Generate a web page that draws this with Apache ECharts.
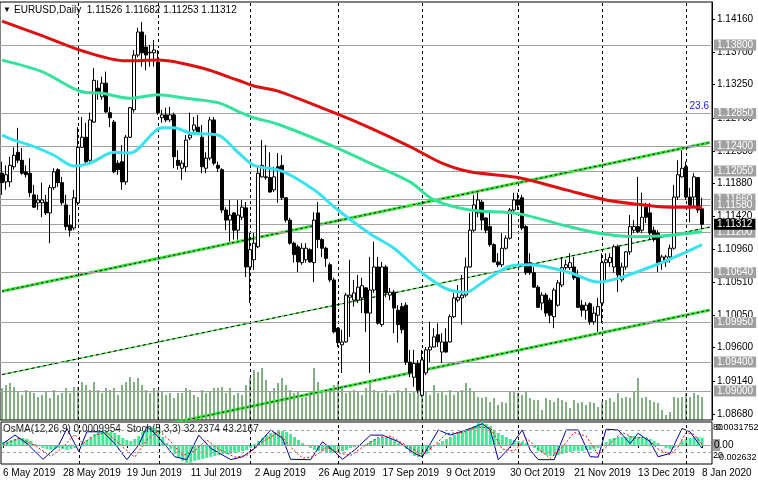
<!DOCTYPE html>
<html><head><meta charset="utf-8">
<script src="https://cdn.jsdelivr.net/npm/echarts@6/dist/echarts.min.js"></script>
<style>html,body{margin:0;padding:0;background:#fff}#c{width:758px;height:483px}</style>
</head><body><div id="c"></div>
<script>
// ---------- DATA ----------
// Daily candles [open, close, low, high]
const ohlc = [
[1.1202,1.1189,1.1172,1.1218],[1.1190,1.1200,1.1179,1.1213],[1.1190,1.1213,1.1183,1.1225],[1.1211,1.1227,1.1207,1.1238],[1.1231,1.1220,1.1216,1.1265],
[1.1220,1.1202,1.1200,1.1237],[1.1204,1.1200,1.1196,1.1213],[1.1202,1.1175,1.1169,1.1223],[1.1172,1.1155,1.1154,1.1186],[1.1161,1.1165,1.1151,1.1172],
[1.1161,1.1165,1.1141,1.1189],[1.1162,1.1147,1.1144,1.1172],[1.1147,1.1182,1.1105,1.1186],[1.1182,1.1204,1.1179,1.1209],[1.1207,1.1189,1.1183,1.1209],
[1.1189,1.1161,1.1158,1.1197],[1.1158,1.1128,1.1123,1.1172],[1.1130,1.1123,1.1114,1.1144],[1.1126,1.1168,1.1123,1.1179],[1.1161,1.1238,1.1158,1.1266],
[1.1238,1.1252,1.1237,1.1280],[1.1252,1.1218,1.1216,1.1272],[1.1220,1.1276,1.1218,1.1286],[1.1273,1.1331,1.1272,1.1348],[1.1320,1.1313,1.1304,1.1331],
[1.1308,1.1327,1.1304,1.1336],[1.1327,1.1287,1.1286,1.1343],[1.1286,1.1279,1.1266,1.1294],[1.1273,1.1204,1.1202,1.1276],[1.1216,1.1207,1.1200,1.1220],
[1.1218,1.1190,1.1179,1.1241],[1.1190,1.1252,1.1186,1.1255],[1.1252,1.1293,1.1251,1.1294],[1.1290,1.1366,1.1286,1.1373],[1.1366,1.1398,1.1363,1.1404],
[1.1398,1.1369,1.1350,1.1412],[1.1377,1.1366,1.1345,1.1394],[1.1369,1.1370,1.1350,1.1380],[1.1369,1.1373,1.1350,1.1387],[1.1356,1.1286,1.1283,1.1373],
[1.1279,1.1283,1.1272,1.1290],[1.1283,1.1276,1.1273,1.1293],[1.1276,1.1283,1.1273,1.1294],[1.1283,1.1225,1.1209,1.1286],[1.1220,1.1213,1.1207,1.1234],
[1.1209,1.1216,1.1193,1.1220],[1.1211,1.1248,1.1204,1.1255],[1.1251,1.1255,1.1248,1.1286],[1.1262,1.1269,1.1259,1.1280],[1.1266,1.1258,1.1255,1.1283],
[1.1252,1.1211,1.1202,1.1269],[1.1209,1.1223,1.1202,1.1231],[1.1223,1.1276,1.1220,1.1280],[1.1276,1.1216,1.1213,1.1280],[1.1213,1.1209,1.1204,1.1218],
[1.1207,1.1151,1.1147,1.1209],[1.1151,1.1137,1.1123,1.1155],[1.1137,1.1144,1.1107,1.1165],[1.1147,1.1123,1.1110,1.1148],[1.1123,1.1144,1.1110,1.1165],
[1.1141,1.1155,1.1137,1.1165],[1.1154,1.1072,1.1058,1.1162],[1.1072,1.1096,1.1022,1.1119],[1.1082,1.1105,1.1068,1.1119],[1.1100,1.1202,1.1098,1.1211],
[1.1197,1.1213,1.1196,1.1248],[1.1197,1.1196,1.1193,1.1241],[1.1196,1.1176,1.1175,1.1231],[1.1179,1.1197,1.1176,1.1211],[1.1211,1.1207,1.1161,1.1230],
[1.1213,1.1168,1.1165,1.1227],[1.1168,1.1137,1.1134,1.1169],[1.1137,1.1105,1.1103,1.1140],[1.1105,1.1089,1.1078,1.1107],[1.1100,1.1079,1.1065,1.1103],
[1.1078,1.1098,1.1075,1.1105],[1.1082,1.1098,1.1078,1.1105],[1.1096,1.1079,1.1078,1.1098],[1.1078,1.1137,1.1051,1.1148],[1.1147,1.1110,1.1098,1.1162],
[1.1110,1.1098,1.1086,1.1112],[1.1098,1.1084,1.1072,1.1100],[1.1075,1.1054,1.1051,1.1078],[1.1054,1.0982,1.0980,1.1057],[1.0987,1.0967,1.0961,1.0988],
[1.0964,1.0968,1.0925,1.0985],[1.0968,1.1033,1.0967,1.1036],[1.1030,1.1033,1.0975,1.1082],[1.1026,1.1036,1.1017,1.1054],[1.1026,1.1044,1.1022,1.1061],
[1.1029,1.1046,1.1008,1.1057],[1.1043,1.1008,1.0982,1.1044],[1.1008,1.1040,1.0925,1.1086],[1.1040,1.1072,1.1036,1.1107],[1.1072,1.0994,1.0992,1.1086],
[1.0992,1.1072,1.0989,1.1079],[1.1072,1.1036,1.1030,1.1075],[1.1033,1.1037,1.1026,1.1043],[1.1037,1.1015,1.0980,1.1040],[1.1012,1.0992,1.0967,1.1019],
[1.1017,1.0985,1.0980,1.1022],[1.1019,1.0940,1.0936,1.1023],[1.0940,1.0925,1.0919,1.0957],[1.0919,1.0938,1.0906,1.0957],[1.0938,1.0901,1.0897,1.0943],
[1.0894,1.0943,1.0892,1.0957],[1.0925,1.0957,1.0922,1.0961],[1.0957,1.0961,1.0940,1.0996],[1.0961,1.0975,1.0960,1.0987],[1.0978,1.0968,1.0961,1.0994],
[1.0954,1.0968,1.0939,1.0980],[1.0968,1.0954,1.0953,1.0987],[1.0968,1.1003,1.0967,1.1006],[1.1003,1.1029,1.1001,1.1036],[1.1026,1.1030,1.1023,1.1047],
[1.1029,1.1033,1.0992,1.1061],[1.1033,1.1072,1.1030,1.1085],[1.1072,1.1123,1.1071,1.1147],[1.1123,1.1158,1.1120,1.1172],[1.1147,1.1165,1.1141,1.1175],
[1.1162,1.1137,1.1123,1.1165],[1.1140,1.1123,1.1119,1.1141],[1.1128,1.1103,1.1100,1.1151],[1.1103,1.1079,1.1078,1.1105],[1.1079,1.1075,1.1072,1.1091],
[1.1075,1.1098,1.1072,1.1119],[1.1098,1.1112,1.1096,1.1116],[1.1112,1.1151,1.1110,1.1154],[1.1151,1.1165,1.1147,1.1175],[1.1165,1.1158,1.1151,1.1175],
[1.1168,1.1126,1.1123,1.1172],[1.1128,1.1064,1.1061,1.1130],[1.1078,1.1064,1.1061,1.1091],[1.1064,1.1044,1.1043,1.1072],[1.1044,1.1016,1.1015,1.1047],
[1.1022,1.1033,1.1012,1.1037],[1.1033,1.1008,1.1003,1.1036],[1.1026,1.1005,1.0994,1.1029],[1.1003,1.1040,1.0987,1.1043],[1.1019,1.1050,1.1017,1.1054],
[1.1047,1.1071,1.1044,1.1086],[1.1071,1.1075,1.1068,1.1082],[1.1071,1.1078,1.1068,1.1091],[1.1072,1.1057,1.1054,1.1086],[1.1058,1.1016,1.1015,1.1068],
[1.1019,1.1012,1.1003,1.1026],[1.1012,1.1019,1.0999,1.1023],[1.1021,1.0996,1.0992,1.1023],[1.0996,1.1008,1.0992,1.1017],[1.1005,1.1017,1.0982,1.1029],
[1.1022,1.1078,1.0994,1.1091],[1.1078,1.1082,1.1054,1.1091],[1.1078,1.1085,1.1072,1.1091],[1.1072,1.1100,1.1064,1.1103],[1.1100,1.1061,1.1037,1.1103],
[1.1054,1.1072,1.1051,1.1078],[1.1072,1.1093,1.1068,1.1094],[1.1093,1.1128,1.1089,1.1144],[1.1123,1.1128,1.1119,1.1137],[1.1128,1.1121,1.1119,1.1197],
[1.1123,1.1141,1.1119,1.1175],[1.1155,1.1141,1.1133,1.1161],[1.1147,1.1119,1.1110,1.1161],[1.1123,1.1110,1.1107,1.1128],[1.1119,1.1078,1.1065,1.1123],
[1.1078,1.1086,1.1068,1.1089],[1.1079,1.1086,1.1072,1.1089],[1.1086,1.1098,1.1078,1.1103],[1.1098,1.1169,1.1096,1.1186],[1.1169,1.1200,1.1165,1.1220],
[1.1197,1.1209,1.1196,1.1234],[1.1211,1.1169,1.1165,1.1218],[1.1169,1.1158,1.1134,1.1182],[1.1169,1.1197,1.1155,1.1202],[1.1196,1.1151,1.1147,1.1197],
[1.11526,1.11312,1.11253,1.11682]
];
// Tick volumes (overlay in the price window)
const volumes = [32,35,37,33,28,25,30,28,27,23,25,28,22,30,25,27,32,27,33,33,38,35,30,38,30,27,32,30,32,25,35,38,43,38,42,35,30,27,32,30,28,25,27,22,27,27,32,30,25,23,30,27,28,32,32,33,27,32,25,27,
25,35,42,50,48,52,40,28,32,37,42,35,30,27,28,22,23,28,52,38,30,28,32,35,38,32,27,28,30,28,25,32,38,30,28,27,30,25,27,30,28,32,27,28,30,32,28,25,35,27,28,25,30,25,28,30,37,32,28,
23,22,23,18,22,15,18,17,28,28,27,25,28,22,20,20,10,22,20,18,22,20,18,12,20,17,18,15,18,17,13,18,20,22,18,27,22,23,22,28,42,22,23,20,18,17,10,5,8,23,22,23,27,23,27,25,23];
// Moving averages, read at points [barIndex, price]
const maRed = [[0,1.1413],[10,1.1393],[20,1.1372],[31,1.1358],[39,1.1359],[50,1.1348],[59,1.1331],[63,1.1323],[69,1.1316],[83,1.1286],[92,1.1265],[102,1.1239],[110,1.1216],[117,1.1204],[129,1.1196],[141,1.1179],[151,1.1165],[159,1.1159],[167,1.1155],[175,1.1155]];
const maTeal = [[0,1.1359],[10,1.1343],[20,1.1315],[25,1.1313],[32,1.1306],[39,1.1311],[46,1.1306],[54,1.1300],[59,1.1288],[63,1.1279],[69,1.1270],[83,1.1239],[92,1.1216],[102,1.1190],[108,1.1165],[117,1.1151],[129,1.1146],[141,1.1129],[150,1.1118],[159,1.1114],[167,1.1116],[175,1.1121]];
const maCyan = [[0,1.1255],[3,1.1248],[8,1.1239],[13,1.1227],[18,1.1212],[22,1.1216],[28,1.1231],[32,1.1230],[40,1.1265],[43,1.1265],[47,1.1258],[54,1.1255],[59,1.1231],[63,1.1213],[70,1.1205],[78,1.1179],[84,1.1151],[92,1.1118],[98,1.1098],[105,1.1064],[111,1.1042],[116,1.1037],[120,1.1050],[127,1.1073],[132,1.1075],[142,1.1064],[149,1.1051],[155,1.1058],[164,1.1076],[170,1.1090],[175,1.1103]];
// Channel trend lines [barIndex, price]
const channelUpper = [[0,1.10382],[177,1.12448]];
const channelMid = [[0,1.09227],[177,1.11274]];
const channelLower = [[0,1.08061],[177,1.10123]];
// Horizontal levels
const levels = [1.13800,1.12850,1.12400,1.12050,1.11660,1.11580,1.11200,1.10640,1.09950,1.09400,1.09000];
const bidPrice = 1.11312;
const fiboLevel = 1.12850, fiboText = '23.6';
// OsMA(12,26,9) histogram
const osma = [0.00041,0.00055,0.00069,0.00083,0.00097,0.00097,0.00083,0.00055,0.00014,-0.00014,-0.00041,-0.00055,-0.00069,-0.00055,-0.00041,-0.00055,-0.00069,-0.00055,-0.00041,-0.00014,
0.00028,0.00069,0.0011,0.00152,0.00179,0.00193,0.00193,0.00179,0.00166,0.00138,0.00097,0.00069,0.00055,0.00083,0.00124,0.00179,0.00221,0.00248,0.00235,0.00193,
0.0011,0.00028,-0.00055,-0.00124,-0.00179,-0.00221,-0.002632,-0.00245,-0.00221,-0.00207,-0.00193,-0.00179,-0.00166,-0.00152,-0.00138,-0.00124,-0.00124,-0.00124,-0.0011,-0.00097,
-0.00083,-0.00069,-0.00041,0.00014,0.00055,0.00097,0.00138,0.00166,0.00179,0.00193,0.00193,0.00179,0.00152,0.0011,0.00069,0.00028,-0.00014,-0.00041,-0.00069,-0.00083,
-0.00083,-0.00097,-0.0011,-0.0011,-0.00097,-0.00083,-0.00069,-0.00041,-0.00028,-0.00014,-0.00014,0.00014,0.00055,0.00083,0.00097,0.0011,0.0011,0.00083,0.00055,0.00028,
-0.00014,-0.00055,-0.0011,-0.00152,-0.00166,-0.00152,-0.00124,-0.00069,-0.00014,0.00028,0.00055,0.00083,0.0011,0.00138,0.00166,0.00179,0.00207,0.00235,0.00262,0.003,
0.0031752,0.0029,0.0026,0.00207,0.00166,0.00138,0.0011,0.00083,0.00069,0.00055,0.00041,0.00028,-0.00014,-0.00041,-0.00083,-0.0011,-0.00138,-0.00152,-0.00152,-0.00138,
-0.00124,-0.0011,-0.00097,-0.00083,-0.00083,-0.00083,-0.00069,-0.00069,-0.00055,-0.00041,0.00002,0.00041,0.00083,0.00097,0.0011,0.0011,0.0011,0.00124,0.00124,0.0011,
0.0011,0.00097,0.00083,0.00055,0.00028,-0.00014,-0.00041,-0.00055,-0.00041,-0.00014,0.00055,0.00083,0.00097,0.0011,0.0011,0.0009954];
// Stochastic(5,3,3) main and signal, read at points [barIndex, value]
const stochMain = [[0,45],[3,68],[6,45],[10,2],[14,41],[16,86],[19,23],[21,77],[25,77],[28,45],[31,1],[34,41],[36,91],[38,73],[41,36],[43,9],[46,1],[49,68],[52,32],[57,1],[60,9],[63,32],[67,82],[70,59],[72,2],[77,1],[80,50],[83,23],[85,2],[88,27],[92,68],[95,68],[99,50],[103,18],[105,9],[107,45],[109,82],[112,68],[117,86],[120,99],[122,82],[124,1],[127,36],[130,82],[132,27],[134,1],[138,1],[141,82],[144,82],[147,9],[149,8],[151,84],[154,82],[157,45],[159,73],[162,50],[164,9],[167,18],[170,86],[172,77],[175,32.2374]];
const stochSignal = [[0,40],[4,60],[8,40],[12,10],[15,35],[18,70],[20,45],[23,68],[26,75],[30,35],[33,8],[36,55],[39,80],[42,50],[45,12],[48,25],[51,55],[54,30],[58,8],[61,12],[65,50],[69,75],[72,35],[75,5],[78,10],[81,35],[84,20],[87,12],[90,35],[94,62],[97,65],[101,40],[105,15],[108,40],[111,72],[115,75],[119,90],[122,88],[125,30],[128,25],[131,60],[134,30],[137,5],[140,35],[143,75],[146,65],[149,15],[152,45],[155,75],[158,60],[161,62],[164,30],[167,15],[169,35],[171,75],[173,70],[175,43.2167]];
// Axis ticks
const priceTicks = [1.14160,1.13700,1.13250,1.12790,1.12330,1.11880,1.11420,1.10960,1.10510,1.10050,1.09600,1.09140,1.08680];
const dateTickIdx = [0,15,31,47,63,79,95,111,127,143,159,175];
const dateTickLabels = ['6 May 2019','28 May 2019','19 Jun 2019','11 Jul 2019','2 Aug 2019','26 Aug 2019','17 Sep 2019','9 Oct 2019','30 Oct 2019','21 Nov 2019','13 Dec 2019','8 Jan 2020'];
const monthSeps = [19,39,62,84,105,129,150,171];

// ---------- CATEGORIES (trading days) ----------
const categories = [];
{
  const d = new Date(Date.UTC(2019,4,6));
  while (categories.length < ohlc.length) {
    const w = d.getUTCDay(), s = d.toISOString().slice(0,10);
    if (w !== 0 && w !== 6 && s !== '2019-12-25' && s !== '2020-01-01') categories.push(s);
    d.setUTCDate(d.getUTCDate()+1);
  }
  categories.push('pad1','pad2');
}
const labelMap = {};
dateTickIdx.forEach((i,k)=>{ labelMap[i] = dateTickLabels[k]; });

const FF = '"Liberation Sans",Arial,sans-serif';
const FS = 10;
const chart = echarts.init(document.getElementById('c'), null, {renderer:'canvas'});

const levelItems = levels.map(v => ({yAxis: v, label: {formatter: v.toFixed(5)}}));
levelItems.push({yAxis: bidPrice, label: {formatter: bidPrice.toFixed(5), backgroundColor:'#000', color:'#fff'}});
levelItems.push({yAxis: fiboLevel, label: {formatter: fiboText, position:'insideEndTop', backgroundColor:'transparent', color:'#1a1adc', distance:[3,2], padding:0}});

const sepItems = monthSeps.map(i => ({xAxis: i}));

chart.setOption({
  animation: false,
  backgroundColor: '#fff',
  textStyle: {fontFamily: FF},
  grid: [
    {left: 0, top: 2, width: 712, height: 418, show: true, borderColor: '#000', borderWidth: 1, backgroundColor: '#fff'},
    {left: 0, top: 422, width: 712, height: 42, show: true, borderColor: '#000', borderWidth: 1, backgroundColor: '#fff'}
  ],
  xAxis: [
    {type:'category', gridIndex:0, data: categories, boundaryGap:true, show:false},
    {type:'category', gridIndex:1, data: categories, boundaryGap:true,
     axisLine:{show:false}, splitLine:{show:false},
     axisTick:{show:true, alignWithLabel:true, length:3, interval:(i)=> labelMap[i] !== undefined, lineStyle:{color:'#000'}},
     axisLabel:{show:true, interval:(i)=> labelMap[i] !== undefined, formatter:(v,i)=> labelMap[i] || '', align:'left', color:'#000', fontSize:FS, fontFamily:FF, margin:4}}
  ],
  yAxis: [
    {type:'value', gridIndex:0, position:'right', min:1.08597, max:1.14396, scale:true,
     splitLine:{show:false}, axisLine:{show:true, lineStyle:{color:'#000'}},
     axisTick:{show:true, customValues: priceTicks, length:3, lineStyle:{color:'#000'}},
     axisLabel:{show:true, customValues: priceTicks, formatter:(v)=> v.toFixed(5), color:'#000', fontSize:FS, fontFamily:FF, margin:5}},
    {type:'value', gridIndex:0, min:0, max:418, show:false},
    {type:'value', gridIndex:1, position:'right', min:-0.002632, max:0.0031752, show:false},
    {type:'value', gridIndex:1, min:-10.8, max:103.7, show:false}
  ],
  graphic: [
    {type:'text', x:3, y:10, z:100, style:{text:'\u25BC', font:'8px '+FF, fill:'#000', verticalAlign:'middle'}},
    {type:'text', x:14, y:10, z:100, style:{text:'EURUSD,Daily  1.11526 1.11682 1.11253 1.11312', font:FS+'px '+FF, fill:'#000', verticalAlign:'middle'}},
    {type:'text', x:3, y:429, z:100, style:{text:'OsMA(12,26,9) 0.0009954  Stoch(5,3,3) 32.2374 43.2167', font:FS+'px '+FF, fill:'#222', verticalAlign:'middle'}},
    {type:'text', x:713, y:428, z:100, style:{text:'80', font:'9px '+FF, fill:'#000', verticalAlign:'middle'}},
    {type:'text', x:716, y:428, z:100, style:{text:'0.0031752', font:'9px '+FF, fill:'#000', verticalAlign:'middle'}},
    {type:'rect', x:713, y:439, z:99, shape:{width:7, height:12}, style:{fill:'#a0a0a0'}},
    {type:'text', x:714, y:445, z:100, style:{text:'0.00', font:FS+'px '+FF, fill:'#000', verticalAlign:'middle'}},
    {type:'text', x:713, y:456, z:100, style:{text:'20', font:'9px '+FF, fill:'#000', verticalAlign:'middle'}},
    {type:'text', x:716, y:458, z:100, style:{text:'-0.002632', font:'9px '+FF, fill:'#000', verticalAlign:'middle'}}
  ],
  series: [
    {name:'Volumes', type:'bar', xAxisIndex:0, yAxisIndex:1, data: volumes, barWidth:1, itemStyle:{color:'#0a5f0a'}, z:1, silent:true,
     markLine:{silent:true, symbol:'none', label:{show:false}, lineStyle:{color:'#000', type:[3,3], width:1}, data: sepItems}},
    {name:'Levels', type:'line', xAxisIndex:0, yAxisIndex:0, data: [], showSymbol:false, z:2,
     markLine:{silent:true, symbol:'none', precision:6,
       lineStyle:{color:'#a0a0a0', type:'solid', width:1},
       label:{show:true, position:'end', distance:2, backgroundColor:'#a0a0a0', color:'#fff', fontSize:FS, fontFamily:FF, padding:[1,3,0,3]},
       data: levelItems}},
    {name:'EURUSD', type:'candlestick', xAxisIndex:0, yAxisIndex:0, data: ohlc, barWidth:3, z:5,
     itemStyle:{color:'#fff', color0:'#000', borderColor:'#000', borderColor0:'#000', borderWidth:1}},
    {name:'ChUpper', type:'line', xAxisIndex:0, yAxisIndex:0, data: channelUpper, showSymbol:false, z:3, lineStyle:{color:'#3ee03e', width:3}},
    {name:'ChUpperDash', type:'line', xAxisIndex:0, yAxisIndex:0, data: channelUpper, showSymbol:false, z:3, lineStyle:{color:'#000', width:1, type:[2,3]}},
    {name:'ChMid', type:'line', xAxisIndex:0, yAxisIndex:0, data: channelMid, showSymbol:false, z:3, lineStyle:{color:'#3ee03e', width:1.2}},
    {name:'ChMidDash', type:'line', xAxisIndex:0, yAxisIndex:0, data: channelMid, showSymbol:false, z:3, lineStyle:{color:'#000', width:1, type:[3,3]}},
    {name:'ChLower', type:'line', xAxisIndex:0, yAxisIndex:0, data: channelLower, showSymbol:false, z:3, clip:true, lineStyle:{color:'#3ee03e', width:3}},
    {name:'ChLowerDash', type:'line', xAxisIndex:0, yAxisIndex:0, data: channelLower, showSymbol:false, z:3, clip:true, lineStyle:{color:'#000', width:1, type:[2,3]}},
    {name:'MA red', type:'line', xAxisIndex:0, yAxisIndex:0, data: maRed, smooth:0.3, showSymbol:false, z:6, lineStyle:{color:'#e01010', width:3}},
    {name:'MA teal', type:'line', xAxisIndex:0, yAxisIndex:0, data: maTeal, smooth:0.3, showSymbol:false, z:6, lineStyle:{color:'#33e39a', width:3}},
    {name:'MA cyan', type:'line', xAxisIndex:0, yAxisIndex:0, data: maCyan, smooth:0.3, showSymbol:false, z:6, lineStyle:{color:'#38e2ee', width:3}},
    {name:'OsMA', type:'bar', xAxisIndex:1, yAxisIndex:2, data: osma, barWidth:3, itemStyle:{color:'#3deb96'}, z:2, silent:true,
     markLine:{silent:true, symbol:'none', precision:6, label:{show:false}, data:[
       {yAxis:0, lineStyle:{color:'#a0a0a0', type:'solid', width:1}},
       ...monthSeps.map(i => ({xAxis:i, lineStyle:{color:'#000', type:[3,3], width:1}}))]}},
    {name:'Stoch', type:'line', xAxisIndex:1, yAxisIndex:3, data: stochMain, showSymbol:false, z:4, lineStyle:{color:'#0000a0', width:1},
     markLine:{silent:true, symbol:'none', label:{show:false}, lineStyle:{color:'#a0a0a0', type:[3,3], width:1}, data:[{yAxis:80},{yAxis:20}]}},
    {name:'Signal', type:'line', xAxisIndex:1, yAxisIndex:3, data: stochSignal, showSymbol:false, z:4, lineStyle:{color:'#ff0000', width:1, type:[2,2]}}
  ]
});
</script>
</body></html>
